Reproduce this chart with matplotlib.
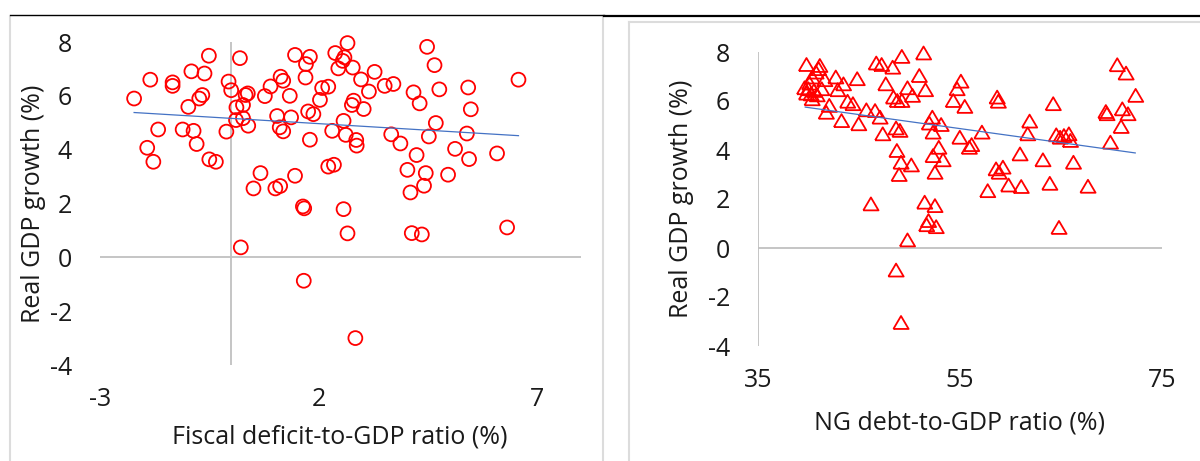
import numpy as np
import matplotlib.pyplot as plt
from matplotlib.lines import Line2D

plt.rcParams['font.family'] = ['Open Sans', 'DejaVu Sans']
plt.rcParams['axes.unicode_minus'] = False

# Левая панель: дефицит бюджета и рост ВВП
deficit_x = [-2.22, -1.85, -1.92, -1.78, -1.67, -1.34, -1.34, -0.98, -0.91, -0.61,
             -0.51, -0.73, -0.66, -1.11, -0.86, -0.79, -0.50, -0.35, -0.11, -0.06,
             0.00, 0.20, 0.12, 0.27, 0.33, 0.38, 0.11, 0.27, 0.39, 0.22,
             0.51, 0.67, 0.77, 0.90, 1.13, 1.19, 1.05, 1.11, 1.19, 1.37,
             1.34, 1.01, 1.12, 1.46, 1.46, 1.71, 1.80, 1.70, 1.76, 1.88,
             1.80, 1.64, 1.67, 1.66, 2.03, 2.08, 2.22, 2.31, 2.22, 2.35,
             2.38, 2.45, 2.55, 2.59, 2.66, 2.78, 2.57, 2.62, 2.76, 2.80,
             3.03, 2.97, 3.15, 3.28, 2.86, 2.87, 2.57, 2.66, 2.84, 3.51,
             3.71, 3.66, 3.87, 4.17, 4.31, 4.48, 4.65, 4.76, 4.68, 4.52,
             4.24, 4.03, 4.45, 4.41, 4.10, 4.13, 4.36, 5.12, 4.96, 5.42,
             5.48, 5.39, 5.44, 6.08, 6.31, 6.57]
deficit_y = [5.90, 6.60, 4.07, 3.55, 4.75, 6.50, 6.37, 5.59, 6.91, 6.83,
             7.49, 5.90, 6.03, 4.75, 4.70, 4.21, 3.64, 3.55, 4.67, 6.53,
             6.21, 7.40, 5.57, 5.66, 6.03, 6.09, 5.10, 5.17, 4.89, 0.37,
             2.56, 3.13, 5.99, 6.35, 6.71, 6.56, 5.25, 4.83, 4.68, 5.20,
             6.00, 2.56, 2.65, 7.52, 3.03, 7.18, 7.45, 6.68, 5.42, 5.32,
             4.37, 1.89, 1.82, -0.87, 5.85, 6.29, 6.34, 4.70, 3.37, 3.44,
             7.59, 7.02, 7.30, 7.43, 7.96, 7.05, 5.07, 4.55, 5.66, 5.82,
             5.51, 6.61, 6.16, 6.89, 4.36, 4.15, 1.79, 0.89, -3.00, 6.37,
             6.44, 4.57, 4.23, 6.13, 5.72, 7.82, 7.14, 6.24, 4.99, 4.49,
             3.80, 3.25, 3.13, 2.66, 2.41, 0.90, 0.85, 4.03, 3.07, 6.31,
             5.50, 4.60, 3.65, 3.86, 1.11, 6.60]
deficit_trend_x = [-2.22, 6.57]
deficit_trend_y = [5.38, 4.52]

# Правая панель: госдолг и рост ВВП
debt_x = [39.80, 41.12, 41.00, 40.74, 40.36, 40.10, 39.61, 39.98, 40.55, 40.25,
          39.80, 40.85, 40.36, 41.61, 41.31, 42.06, 41.76, 42.70, 42.89, 43.46,
          43.27, 43.87, 44.40, 44.82, 44.97, 45.73, 46.18, 46.59, 47.08, 46.71,
          47.24, 47.35, 47.65, 48.33, 49.24, 48.41, 48.79, 49.24, 48.67, 49.05,
          48.75, 49.16, 50.18, 48.97, 49.80, 50.29, 50.97, 51.39, 51.58, 48.67,
          49.16, 49.80, 51.50, 52.52, 51.69, 51.88, 52.64, 51.96, 52.26, 52.33,
          53.13, 52.90, 52.33, 53.32, 52.52, 54.33, 54.71, 55.09, 55.47, 54.98,
          55.92, 56.15, 57.17, 57.74, 58.68, 58.79, 58.57, 58.87, 59.25, 59.81,
          61.06, 60.94, 61.70, 61.89, 63.21, 63.89, 64.23, 64.53, 64.80, 64.91,
          65.29, 65.78, 65.93, 66.23, 67.67, 69.44, 69.55, 69.89, 70.57, 71.44,
          71.07, 71.63, 70.95, 72.39]
debt_y = [7.49, 7.45, 7.32, 7.18, 6.98, 6.73, 6.54, 6.50, 6.43, 6.29,
          6.32, 6.25, 6.09, 6.87, 6.50, 5.82, 5.54, 6.98, 6.46, 6.70,
          5.20, 5.99, 5.89, 6.91, 5.07, 5.64, 1.80, 5.61, 5.34, 7.55,
          7.49, 4.66, 6.70, 7.38, 7.82, 6.16, 6.02, 6.02, 4.90, 4.80,
          3.98, 3.50, 3.39, 3.00, 6.54, 6.23, 7.04, 7.96, 6.46, -0.90,
          -3.04, 0.33, 1.87, 1.73, 0.95, 1.12, 0.87, 5.10, 5.34, 4.73,
          5.04, 4.11, 3.77, 3.60, 3.09, 6.02, 6.50, 6.81, 5.78, 4.52,
          4.11, 4.22, 4.73, 2.34, 6.16, 5.99, 3.23, 3.09, 3.30, 2.57,
          2.51, 3.84, 4.66, 5.18, 3.60, 2.64, 5.89, 4.62, 0.84, 4.52,
          4.59, 4.66, 4.39, 3.50, 2.52, 5.57, 5.48, 4.32, 7.48, 7.14,
          5.68, 5.48, 4.96, 6.23]
debt_trend_x = [39.68, 72.35]
debt_trend_y = [5.75, 3.88]

W, H = 1200, 461
TEXT = '#1a1a1a'
AXIS_GRAY = '#c0c0c0'
FS = 18


def px(x0, y0, x1, y1):
    # пиксели -> доли фигуры (left, bottom, width, height)
    return [x0 / W, 1 - y1 / H, (x1 - x0) / W, (y1 - y0) / H]


def setup(ax, xlim, xticks):
    ax.set_xlim(*xlim)
    ax.set_ylim(-4, 8)
    for s in ax.spines.values():
        s.set_visible(False)
    ax.axhline(0, color=AXIS_GRAY, lw=1.3, zorder=1)
    ax.set_xticks(xticks)
    ax.set_yticks(range(-4, 9, 2))
    ax.tick_params(length=0, labelsize=FS, colors=TEXT, pad=20)
    ax.tick_params(axis='x', pad=16)


fig = plt.figure(figsize=(W / 100, H / 100), dpi=100)

# рамки панелей и верхняя линия
fig.add_artist(Line2D([10 / W, 10 / W], [0, 1 - 17 / H], color='#dcdcdc', lw=1.5))
fig.add_artist(Line2D([603 / W, 603 / W], [0, 1 - 17 / H], color='#dcdcdc', lw=1.5))
fig.add_artist(Line2D([629 / W, 629 / W], [0, 1 - 22 / H], color='#dcdcdc', lw=1.5))
fig.add_artist(Line2D([629 / W, 1], [1 - 22 / H, 1 - 22 / H], color='#dcdcdc', lw=1.5))
fig.add_artist(Line2D([10 / W, 604 / W], [1 - 15.5 / H, 1 - 15.5 / H], color='black', lw=1.0))
fig.add_artist(Line2D([604 / W, 1], [1 - 15.8 / H, 1 - 15.8 / H], color='black', lw=1.6))

# Левый график
ax1 = fig.add_axes(px(100, 42, 581, 365))
setup(ax1, (-3, 8), [-3, 2, 7])
ax1.plot([0, 0], [-4, 8], color=AXIS_GRAY, lw=1.3, zorder=1)
ax1.scatter(deficit_x, deficit_y, s=100, facecolors='none', edgecolors='#ff0000',
            linewidths=1.3, zorder=3, clip_on=False)
ax1.plot(deficit_trend_x, deficit_trend_y, color='#4472c4', lw=0.9, zorder=4)
fig.text(340 / W, 1 - 437 / H, 'Fiscal deficit-to-GDP ratio (%)', ha='center', va='center',
         fontsize=FS, color=TEXT)
fig.text(34 / W, 1 - 203.5 / H, 'Real GDP growth (%)', ha='center', va='center',
         rotation=90, fontsize=FS, color=TEXT)

# Правый график
tri = [(-1, -0.85), (1, -0.85), (0, 0.85), (-1, -0.85)]
ax2 = fig.add_axes(px(758, 52, 1162, 346))
setup(ax2, (35, 75), [35, 55, 75])
ax2.plot([35, 35], [-4, 8], color=AXIS_GRAY, lw=1.3, zorder=1)
ax2.scatter(debt_x, debt_y, s=120, marker=tri, facecolors='none', edgecolors='#ff0000',
            linewidths=1.3, zorder=3, clip_on=False)
ax2.plot(debt_trend_x, debt_trend_y, color='#4472c4', lw=0.9, zorder=4)
fig.text(960 / W, 1 - 423 / H, 'NG debt-to-GDP ratio (%)', ha='center', va='center',
         fontsize=FS, color=TEXT)
fig.text(682 / W, 1 - 199 / H, 'Real GDP growth (%)', ha='center', va='center',
         rotation=90, fontsize=FS, color=TEXT)

fig.savefig('out.png', dpi=100)
